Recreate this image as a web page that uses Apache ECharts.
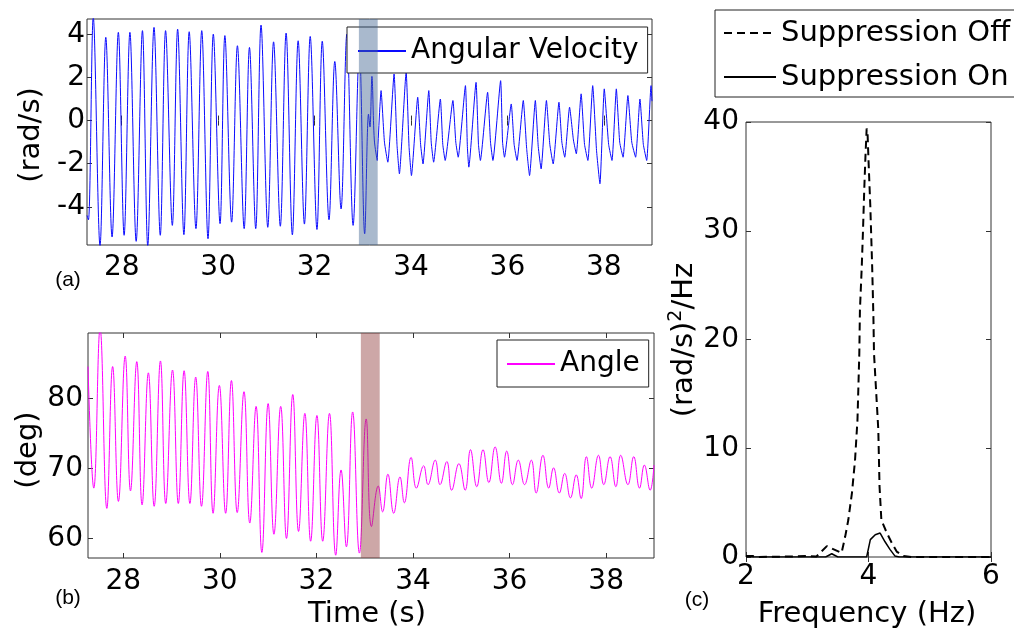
<!DOCTYPE html>
<html>
<head>
<meta charset="utf-8">
<script src="https://cdn.jsdelivr.net/npm/echarts@6/dist/echarts.min.js"></script>
<style>
  html, body { margin: 0; padding: 0; background: #ffffff; }
  #chart { width: 1014px; height: 630px; }
</style>
</head>
<body>
<div id="chart"></div>
<script>
// ---- measured signals -------------------------------------------------
// (a) angular velocity [time s, rad/s] before the suppression window
const velocityBefore = [
  [27.28,-4.4],[27.31,-4.6],[27.41,4.8],[27.55,-5.8],[27.67,3.86],[27.80,-5.40],
  [27.93,4.09],[28.05,-5.32],[28.17,4.09],[28.30,-5.60],[28.43,4.17],[28.54,-5.8],
  [28.67,4.32],[28.80,-5.32],[28.91,4.17],[29.05,-4.86],[29.16,4.24],[29.29,-5.29],
  [29.40,4.12],[29.54,-5.01],[29.66,4.17],[29.79,-5.48],[29.90,4.01],[30.04,-4.78],
  [30.14,3.94],[30.28,-4.71],[30.40,3.47],[30.54,-5.01],[30.65,3.39],[30.78,-5.01],
  [30.89,4.43],[31.03,-4.95],[31.15,3.65],[31.29,-4.9],[31.41,4.06],[31.54,-5.3],
  [31.66,3.7],[31.79,-4.8],[31.91,3.9],[32.05,-5.05],[32.16,3.68],[32.30,-4.6],
  [32.42,2.74],[32.55,-4.1],[32.67,4.01],[32.80,-4.86],[32.93,3.4],[33.04,-5.25],
  [33.12,0.3],[33.15,-0.3],[33.19,2.05],[33.24,-0.9],[33.30,-1.85]
];
// (a) angular velocity after the suppression window: peak, shoulder, trough
const velocityAfter = [
  [33.30,-1.85],
  [33.38,1.39],[33.45,-1.0],[33.52,-1.93],[33.65,2.16],[33.71,-1.1],[33.76,-2.47],
  [33.90,2.24],[33.96,-1.2],[34.01,-2.55],[34.14,1.08],[34.20,-1.1],[34.25,-2.01],
  [34.37,1.39],[34.42,-1.0],[34.47,-1.93],[34.61,1.00],[34.66,-1.1],[34.71,-1.85],
  [34.87,0.93],[34.93,-1.0],[34.98,-1.70],[35.13,1.62],[35.17,-1.2],[35.20,-2.16],
  [35.35,1.77],[35.40,-1.1],[35.44,-1.85],[35.59,1.31],[35.65,-1.0],[35.70,-1.85],
  [35.86,1.85],[35.90,-1.0],[35.94,-1.70],[36.08,0.77],[36.14,-1.1],[36.20,-1.85],
  [36.33,0.93],[36.40,-1.3],[36.46,-2.55],[36.58,0.93],[36.64,-1.2],[36.70,-2.24],
  [36.81,0.93],[36.88,-1.1],[36.95,-2.01],[37.07,0.85],[37.13,-1.0],[37.19,-1.70],
  [37.29,0.62],[37.37,-0.9],[37.43,-1.54],[37.53,1.24],[37.60,-1.1],[37.67,-1.85],
  [37.77,1.62],[37.85,-1.4],[37.92,-2.93],[38.01,1.47],[38.10,-1.1],[38.17,-1.85],
  [38.26,1.47],[38.33,-1.0],[38.40,-1.70],[38.50,1.16],[38.58,-1.0],[38.66,-1.70],
  [38.75,1.00],[38.82,-1.1],[38.89,-1.85],[38.98,1.62],[39.00,0.9]
];

// (b) angle [time s, deg]
const angleSamples = [
  [27.27,84.6],[27.39,67.2],[27.52,90.0],[27.66,64.3],[27.78,84.6],[27.90,65.3],
  [28.04,86.1],[28.15,66.8],[28.28,85.3],[28.39,64.8],[28.52,83.7],[28.64,64.6],
  [28.77,85.4],[28.88,65.0],[29.02,84.1],[29.14,65.0],[29.26,84.0],[29.38,65.0],
  [29.50,83.1],[29.62,64.6],[29.75,83.9],[29.86,63.6],[29.99,81.9],[30.12,63.6],
  [30.24,82.6],[30.36,63.7],[30.50,81.0],[30.62,62.2],[30.75,78.9],[30.87,58.0],
  [31.00,79.3],[31.12,60.6],[31.26,78.9],[31.38,60.0],[31.51,80.6],[31.63,61.0],
  [31.76,77.9],[31.88,59.6],[32.01,77.6],[32.13,59.6],[32.27,77.9],[32.40,57.6],
  [32.51,69.8],[32.62,58.8],[32.75,78.1],[32.89,57.9],[33.03,77.1],[33.14,61.7],
  [33.28,67.5],[33.37,63.8],[33.48,69.2],[33.60,63.6],[33.73,68.8],[33.82,65.1],
  [33.96,71.6],[34.07,67.2],[34.22,70.4],[34.31,67.7],[34.46,71.2],[34.56,67.7],
  [34.70,71.0],[34.80,66.9],[34.95,70.7],[35.08,66.9],[35.19,72.7],[35.32,67.4],
  [35.45,72.7],[35.57,68.0],[35.70,73.1],[35.83,67.9],[35.94,72.5],[36.06,67.7],
  [36.18,71.2],[36.31,67.7],[36.45,71.2],[36.55,66.5],[36.69,71.9],[36.81,67.2],
  [36.91,70.1],[37.03,66.5],[37.14,69.3],[37.26,65.8],[37.38,69.1],[37.48,65.7],
  [37.59,71.7],[37.70,67.2],[37.84,71.9],[37.95,67.7],[38.08,71.7],[38.20,67.4],
  [38.30,71.9],[38.45,67.7],[38.57,71.7],[38.69,67.2],[38.79,70.5],[38.91,66.9],
  [38.99,70.5]
];

// (c) power spectral density [Hz, (rad/s)^2/Hz]
const psdOff = [
  [2.00,0.1],[2.10,0.1],[2.20,0],[2.80,0.05],[3.00,0.1],[3.15,0.05],[3.32,1.0],
  [3.56,0.37],[3.62,1.9],[3.67,3.4],[3.73,5.9],[3.78,8.9],[3.82,12.6],[3.85,18.7],
  [3.86,22.7],[3.89,26.7],[3.91,30.0],[3.93,33.7],[3.95,36.8],[3.97,39.4],
  [3.985,38.9],[4.00,36.5],[4.03,32.2],[4.06,26.7],[4.08,22.1],[4.09,18.7],
  [4.12,15.7],[4.16,11.7],[4.18,6.5],[4.21,3.4],[4.30,2.2],[4.38,1.3],[4.46,0.5],
  [4.57,0.1],[4.70,0],[6.00,0]
];
const psdOn = [
  [2.00,0],[3.30,0],[3.40,0.3],[3.50,0],[3.97,0],[4.03,1.6],[4.11,2.05],[4.19,2.2],
  [4.27,1.4],[4.35,0.7],[4.43,0.1],[4.50,0],[6.00,0]
];

// ---- axes ticks, ranges, shaded interval ------------------------------
const timeTicks = [28, 30, 32, 34, 36, 38];
const velocityTicks = [-4, -2, 0, 2, 4];
const angleTicks = [60, 70, 80];
const freqTicks = [2, 4, 6];
const psdTicks = [0, 10, 20, 30, 40];
const suppressionWindow = [32.92, 33.31];

const FONT = 'DejaVu Sans';
const FRAME = '#333333';
const TICK_FONT = 28;

function xAxisPair(grid, min, max, ticks, margin) {
  const common = {
    type: 'value', gridIndex: grid, min: min, max: max,
    axisLine: { show: false }, splitLine: { show: false },
    axisTick: { show: true, inside: true, length: 5, customValues: ticks,
                lineStyle: { color: FRAME, width: 1 } }
  };
  return [
    Object.assign({}, common, { position: 'bottom',
      axisLabel: { show: true, customValues: ticks, margin: margin, color: '#000',
                   fontFamily: FONT, fontSize: TICK_FONT, lineHeight: 28 } }),
    Object.assign({}, common, { position: 'top', axisLabel: { show: false } })
  ];
}
function yAxisPair(grid, min, max, ticks, margin) {
  const common = {
    type: 'value', gridIndex: grid, min: min, max: max,
    axisLine: { show: false }, splitLine: { show: false },
    axisTick: { show: true, inside: true, length: 5, customValues: ticks,
                lineStyle: { color: FRAME, width: 1 } }
  };
  return [
    Object.assign({}, common, { position: 'left',
      axisLabel: { show: true, customValues: ticks, margin: margin, color: '#000',
                   fontFamily: FONT, fontSize: TICK_FONT } }),
    Object.assign({}, common, { position: 'right', axisLabel: { show: false } })
  ];
}

const gridBase = { show: true, borderColor: FRAME, borderWidth: 1,
                   backgroundColor: 'transparent', containLabel: false, outerBoundsMode: 'none' };

// legend samples are plain line segments (no marker)
const legendBase = {
  selectedMode: false, borderColor: '#222', borderWidth: 1, borderRadius: 0,
  backgroundColor: '#ffffff', itemHeight: 14, z: 4, itemStyle: { opacity: 0 }
};

const option = {
  animation: false,
  backgroundColor: '#ffffff',
  grid: [
    Object.assign({ left: 87, top: 19, width: 565, height: 226 }, gridBase),
    Object.assign({ left: 88, top: 333, width: 566, height: 225 }, gridBase),
    Object.assign({ left: 746, top: 122, width: 245, height: 435 }, gridBase)
  ],
  xAxis: [].concat(
    xAxisPair(0, 27.28, 39.0, timeTicks, 9),
    xAxisPair(1, 27.27, 38.99, timeTicks, 10),
    xAxisPair(2, 2, 6, freqTicks, 6)
  ),
  yAxis: [].concat(
    yAxisPair(0, -5.77, 4.71, velocityTicks, 2),
    yAxisPair(1, 57.2, 89.4, angleTicks, 5),
    yAxisPair(2, 0, 40, psdTicks, 7)
  ),
  legend: [
    Object.assign({}, legendBase, {
      data: ['Angular Velocity'], left: 347, top: 27, padding: [8, 9, 6, 10], itemWidth: 48,
      textStyle: { fontFamily: FONT, fontSize: 28, lineHeight: 32, color: '#000' }
    }),
    Object.assign({}, legendBase, {
      data: ['Angle'], left: 497, top: 340, padding: [8, 9, 7, 9], itemWidth: 48,
      textStyle: { fontFamily: FONT, fontSize: 28, lineHeight: 32, color: '#000' }
    }),
    Object.assign({}, legendBase, {
      data: ['Suppression Off', 'Suppression On'], orient: 'vertical', left: 715, top: 10,
      padding: [7, 10, 4, 8], itemWidth: 52, itemGap: 12,
      textStyle: { fontFamily: FONT, fontSize: 29, lineHeight: 32, color: '#000' }
    })
  ],
  series: [
    {
      name: 'Angular Velocity', type: 'line', xAxisIndex: 0, yAxisIndex: 0,
      data: velocityBefore, symbol: 'none', smooth: 0.35, z: 2,
      lineStyle: { color: '#0a0aff', width: 1 }, itemStyle: { color: '#0a0aff' }
    },
    {
      name: 'Angular Velocity', type: 'line', xAxisIndex: 0, yAxisIndex: 0,
      data: velocityAfter, symbol: 'none', smooth: 0.15, z: 2,
      lineStyle: { color: '#0a0aff', width: 1 }, itemStyle: { color: '#0a0aff' }
    },
    {
      name: 'window-a', type: 'line', xAxisIndex: 0, yAxisIndex: 0, data: [], z: 10,
      markArea: { silent: true, z: 10, itemStyle: { color: 'rgba(64,100,144,0.45)' },
        data: [[{ xAxis: suppressionWindow[0] }, { xAxis: suppressionWindow[1] }]] }
    },
    {
      name: 'Angle', type: 'line', xAxisIndex: 2, yAxisIndex: 2,
      data: angleSamples, symbol: 'none', smooth: 0.45, z: 2,
      lineStyle: { color: '#ff00ff', width: 1 }, itemStyle: { color: '#ff00ff' }
    },
    {
      name: 'window-b', type: 'line', xAxisIndex: 2, yAxisIndex: 2, data: [], z: 10,
      markArea: { silent: true, z: 10, itemStyle: { color: 'rgba(144,60,60,0.45)' },
        data: [[{ xAxis: suppressionWindow[0] }, { xAxis: suppressionWindow[1] }]] }
    },
    {
      name: 'Suppression Off', type: 'line', xAxisIndex: 4, yAxisIndex: 4,
      data: psdOff, symbol: 'none', z: 3,
      lineStyle: { color: '#000', width: 2, type: [8, 5] }, itemStyle: { color: '#000' }
    },
    {
      name: 'Suppression On', type: 'line', xAxisIndex: 4, yAxisIndex: 4,
      data: psdOn, symbol: 'none', z: 3,
      lineStyle: { color: '#000', width: 1.5 }, itemStyle: { color: '#000' }
    }
  ],
  graphic: [
    { type: 'text', x: 31, y: 135, rotation: Math.PI / 2,
      style: { text: '(rad/s)', fontFamily: FONT, fontSize: 29, fill: '#000', align: 'center', verticalAlign: 'middle' } },
    { type: 'text', x: 28, y: 450, rotation: Math.PI / 2,
      style: { text: '(deg)', fontFamily: FONT, fontSize: 29, fill: '#000', align: 'center', verticalAlign: 'middle' } },
    { type: 'text', x: 684, y: 340, rotation: Math.PI / 2,
      style: { text: '{m|(rad/s)}{s|2}{m|/Hz}', fill: '#000', align: 'center', verticalAlign: 'middle',
        rich: { m: { fontFamily: FONT, fontSize: 29, lineHeight: 34 },
                s: { fontFamily: FONT, fontSize: 19, verticalAlign: 'top', lineHeight: 34 } } } },
    { type: 'text', x: 367, y: 614,
      style: { text: 'Time (s)', fontFamily: FONT, fontSize: 29, fill: '#000', align: 'center', verticalAlign: 'middle' } },
    { type: 'text', x: 867, y: 614,
      style: { text: 'Frequency (Hz)', fontFamily: FONT, fontSize: 29, fill: '#000', align: 'center', verticalAlign: 'middle' } },
    { type: 'text', x: 68, y: 280,
      style: { text: '(a)', fontFamily: 'Liberation Sans', fontSize: 21, fill: '#000', align: 'center', verticalAlign: 'middle' } },
    { type: 'text', x: 68, y: 598,
      style: { text: '(b)', fontFamily: 'Liberation Sans', fontSize: 21, fill: '#000', align: 'center', verticalAlign: 'middle' } },
    { type: 'text', x: 697, y: 600,
      style: { text: '(c)', fontFamily: 'Liberation Sans', fontSize: 21, fill: '#000', align: 'center', verticalAlign: 'middle' } }
  ]
};

const chart = echarts.init(document.getElementById('chart'), null, { renderer: 'canvas' });
chart.setOption(option);
</script>
</body>
</html>
